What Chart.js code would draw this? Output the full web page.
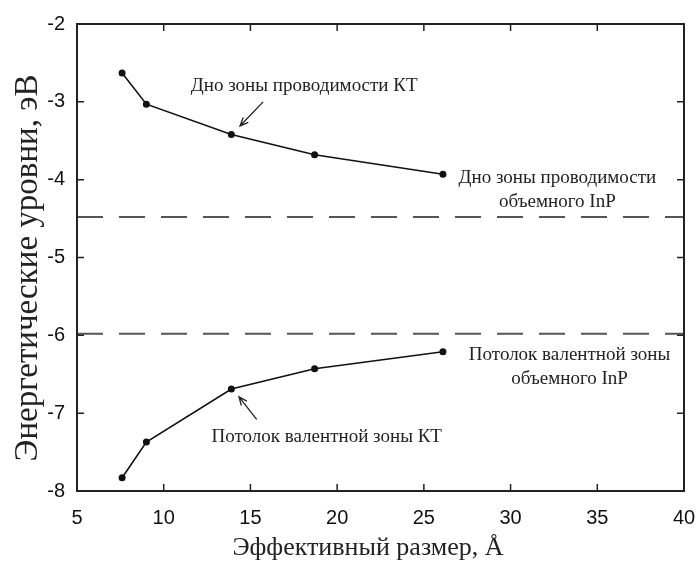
<!DOCTYPE html>
<html>
<head>
<meta charset="utf-8">
<script src="https://cdn.jsdelivr.net/npm/chart.js@4/dist/chart.umd.min.js"></script>
<style>
  html, body { margin: 0; padding: 0; background: #fff; }
  #wrap { width: 700px; height: 561px; }
</style>
</head>
<body>
<div id="wrap"><canvas id="levels"></canvas></div>
<script>
// эффективный размер КТ, Å
const sizes = [7.6, 9.0, 13.9, 18.7, 26.1];
// дно зоны проводимости КТ, эВ
const conductionQD = [-2.63, -3.03, -3.42, -3.68, -3.93];
// потолок валентной зоны КТ, эВ
const valenceQD = [-7.83, -7.37, -6.69, -6.43, -6.21];
// уровни объемного InP, эВ
const bulkConduction = -4.48;
const bulkValence = -5.98;

const xTicks = [5, 10, 15, 20, 25, 30, 35, 40];
const yTicks = [-8, -7, -6, -5, -4, -3, -2];

// подписи на поле графика (в координатах данных)
const notes = [
  { lines: ['Дно зоны проводимости КТ'], x: 18.1, y: -2.80 },
  { lines: ['Дно зоны проводимости', 'объемного InP'], x: 32.7, y: -3.98 },
  { lines: ['Потолок валентной зоны', 'объемного InP'], x: 33.4, y: -6.25 },
  { lines: ['Потолок валентной зоны КТ'], x: 19.4, y: -7.30 }
];
const arrows = [
  { from: [15.73, -3.00], to: [14.40, -3.31] },
  { from: [15.36, -7.08], to: [14.34, -6.79] }
];

const SERIF = '"Liberation Serif", "DejaVu Serif", serif';
const SANS = '"Liberation Sans", Arial, sans-serif';

const points = ys => sizes.map((x, i) => ({ x: x, y: ys[i] }));
const flat = v => [{ x: xTicks[0], y: v }, { x: xTicks[xTicks.length - 1], y: v }];

// рамка, внутренние штрихи, стрелки и подписи
const decor = {
  id: 'decor',
  afterDatasetsDraw(chart) {
    const { ctx, chartArea: a, scales: { x, y } } = chart;
    ctx.save();
    ctx.strokeStyle = '#222';
    ctx.lineWidth = 2;
    ctx.strokeRect(a.left, a.top, a.right - a.left, a.bottom - a.top);

    ctx.lineWidth = 1.5;
    ctx.beginPath();
    xTicks.slice(1, -1).forEach(v => {
      const px = x.getPixelForValue(v);
      ctx.moveTo(px, a.bottom); ctx.lineTo(px, a.bottom - 7);
      ctx.moveTo(px, a.top); ctx.lineTo(px, a.top + 7);
    });
    yTicks.slice(1, -1).forEach(v => {
      const py = y.getPixelForValue(v);
      ctx.moveTo(a.left, py); ctx.lineTo(a.left + 7, py);
      ctx.moveTo(a.right, py); ctx.lineTo(a.right - 7, py);
    });
    ctx.stroke();

    ctx.lineWidth = 1.3;
    arrows.forEach(ar => {
      const x0 = x.getPixelForValue(ar.from[0]), y0 = y.getPixelForValue(ar.from[1]);
      const x1 = x.getPixelForValue(ar.to[0]), y1 = y.getPixelForValue(ar.to[1]);
      const ang = Math.atan2(y1 - y0, x1 - x0);
      ctx.beginPath();
      ctx.moveTo(x0, y0); ctx.lineTo(x1, y1);
      ctx.moveTo(x1 - 9 * Math.cos(ang - 0.4), y1 - 9 * Math.sin(ang - 0.4));
      ctx.lineTo(x1, y1);
      ctx.lineTo(x1 - 9 * Math.cos(ang + 0.4), y1 - 9 * Math.sin(ang + 0.4));
      ctx.stroke();
    });

    ctx.fillStyle = '#222';
    ctx.font = '19px ' + SERIF;
    ctx.textAlign = 'center';
    ctx.textBaseline = 'middle';
    notes.forEach(n => {
      const px = x.getPixelForValue(n.x);
      const py = y.getPixelForValue(n.y);
      n.lines.forEach((t, i) => ctx.fillText(t, px, py + i * 24));
    });

    // подписи осей
    ctx.font = '26px ' + SERIF;
    ctx.fillText('Эффективный размер, Å', 368, 548);
    ctx.translate(37, 268);
    ctx.rotate(-Math.PI / 2);
    ctx.textBaseline = 'alphabetic';
    ctx.font = '33px ' + SERIF;
    ctx.fillText('Энергетические уровни, эВ', 0, 0);
    ctx.restore();
  }
};

const lineStyle = {
  showLine: true,
  borderColor: '#111',
  backgroundColor: '#111',
  borderWidth: 1.6,
  pointRadius: 3.5,
  pointBorderWidth: 0
};
const dashStyle = {
  showLine: true,
  borderColor: '#555',
  borderWidth: 2,
  borderDash: [26, 16],
  pointRadius: 0
};

new Chart(document.getElementById('levels'), {
  type: 'scatter',
  data: {
    datasets: [
      Object.assign({ label: 'Дно зоны проводимости КТ', data: points(conductionQD) }, lineStyle),
      Object.assign({ label: 'Потолок валентной зоны КТ', data: points(valenceQD) }, lineStyle),
      Object.assign({ label: 'Дно зоны проводимости объемного InP', data: flat(bulkConduction) }, dashStyle),
      Object.assign({ label: 'Потолок валентной зоны объемного InP', data: flat(bulkValence) }, dashStyle)
    ]
  },
  options: {
    responsive: true,
    maintainAspectRatio: false,
    animation: false,
    layout: { padding: { top: 24, right: 16, left: 0, bottom: 0 } },
    plugins: {
      legend: { display: false },
      tooltip: { enabled: false }
    },
    scales: {
      x: {
        type: 'linear',
        min: 5,
        max: 40,
        grid: { display: false, drawTicks: false },
        border: { display: false },
        afterBuildTicks: s => { s.ticks = xTicks.map(v => ({ value: v })); },
        afterFit: s => { s.height = 70; s.paddingLeft = 0; s.paddingRight = 0; },
        ticks: {
          padding: 15,
          color: '#111',
          font: { family: SANS, size: 20 },
          maxRotation: 0
        }
      },
      y: {
        type: 'linear',
        min: -8,
        max: -2,
        grid: { display: false, drawTicks: false },
        border: { display: false },
        afterBuildTicks: s => { s.ticks = yTicks.map(v => ({ value: v })); },
        afterFit: s => { s.width = 77; s.paddingTop = 0; s.paddingBottom = 0; },
        ticks: {
          padding: 12,
          color: '#111',
          font: { family: SANS, size: 20 }
        }
      }
    }
  },
  plugins: [decor]
});
</script>
</body>
</html>
